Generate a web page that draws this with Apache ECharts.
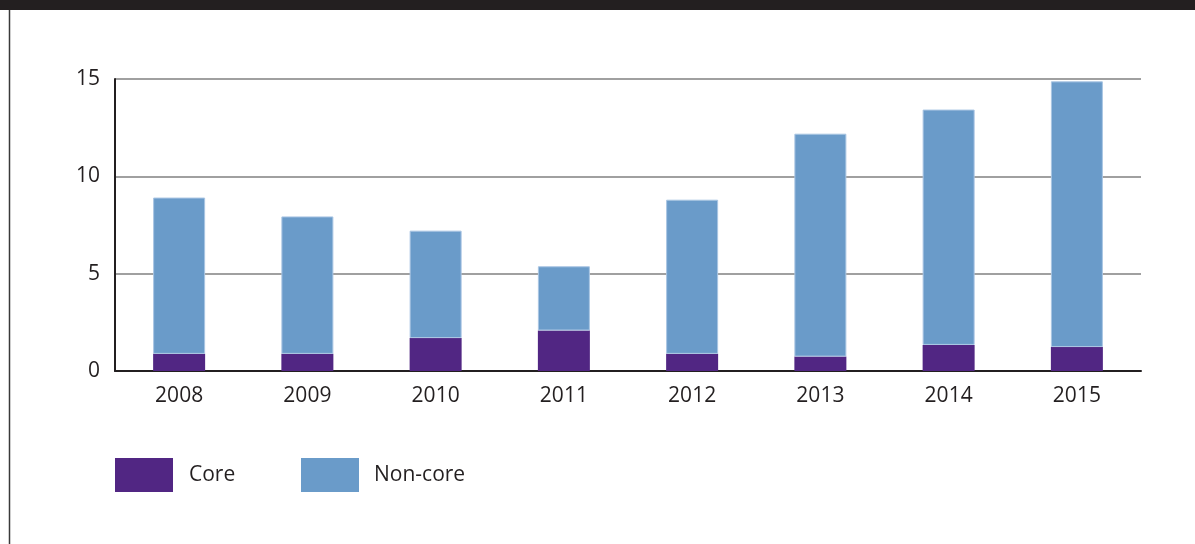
<!DOCTYPE html>
<html>
<head>
<meta charset="utf-8">
<script src="https://cdn.jsdelivr.net/npm/echarts@6/dist/echarts.min.js"></script>
<style>html,body{margin:0;padding:0;background:#fff;}#c{width:1195px;height:544px;}</style>
</head>
<body>
<div id="c"></div>
<script>
var categories = ['2008','2009','2010','2011','2012','2013','2014','2015'];
var coreValues = [0.88, 0.88, 1.69, 2.08, 0.88, 0.74, 1.34, 1.23];
var totalValues = [8.91, 7.94, 7.21, 5.38, 8.80, 12.19, 13.43, 14.88];
var nonCoreValues = totalValues.map(function(t, i){ return +(t - coreValues[i]).toFixed(2); });
var yTicks = [0, 5, 10, 15];

var FONT = '"Open Sans", "Noto Sans", sans-serif';
var chart = echarts.init(document.getElementById('c'), null, {renderer: 'canvas'});
chart.setOption({
  animation: false,
  backgroundColor: '#ffffff',
  graphic: [
    {type: 'rect', shape: {x: 0, y: 0, width: 1195, height: 10}, style: {fill: '#231f20'}},
    {type: 'line', shape: {x1: 9.5, y1: 10, x2: 9.5, y2: 544}, style: {stroke: '#3a3a3a', lineWidth: 1.5}}
  ],
  grid: {left: 115, right: 54, top: 79, bottom: 173, containLabel: false},
  legend: [
    {data: ['Core'], left: 115, top: 458, padding: 0, itemWidth: 58, itemHeight: 34, icon: 'rect',
     itemStyle: {borderWidth: 0},
     textStyle: {fontFamily: FONT, fontSize: 21, color: '#231f20', padding: [2, 0, 0, 11]}},
    {data: ['Non-core'], left: 301, top: 458, padding: 0, itemWidth: 58, itemHeight: 34, icon: 'rect',
     itemStyle: {borderWidth: 0},
     textStyle: {fontFamily: FONT, fontSize: 21, color: '#231f20', padding: [2, 0, 0, 10]}}
  ],
  xAxis: {
    type: 'category', data: categories,
    axisLine: {lineStyle: {color: '#231f20', width: 2}},
    axisTick: {show: false},
    axisLabel: {fontFamily: FONT, fontSize: 21, color: '#231f20', margin: 15}
  },
  yAxis: {
    type: 'value', min: yTicks[0], max: yTicks[yTicks.length - 1], interval: 5,
    axisLine: {show: true, lineStyle: {color: '#231f20', width: 2}},
    axisTick: {show: false},
    axisLabel: {fontFamily: FONT, fontSize: 21, color: '#231f20', margin: 15, padding: [3, 0, 0, 0]},
    splitLine: {lineStyle: {color: '#a0a0a0', width: 2}}
  },
  series: [
    {name: 'Core', type: 'bar', stack: 'total', data: coreValues, barWidth: 52,
     itemStyle: {color: '#512683'}},
    {name: 'Non-core', type: 'bar', stack: 'total', data: nonCoreValues, barWidth: 52,
     itemStyle: {color: '#6a9bc9', borderColor: '#a9c5e3', borderWidth: 1}}
  ]
});
</script>
</body>
</html>
